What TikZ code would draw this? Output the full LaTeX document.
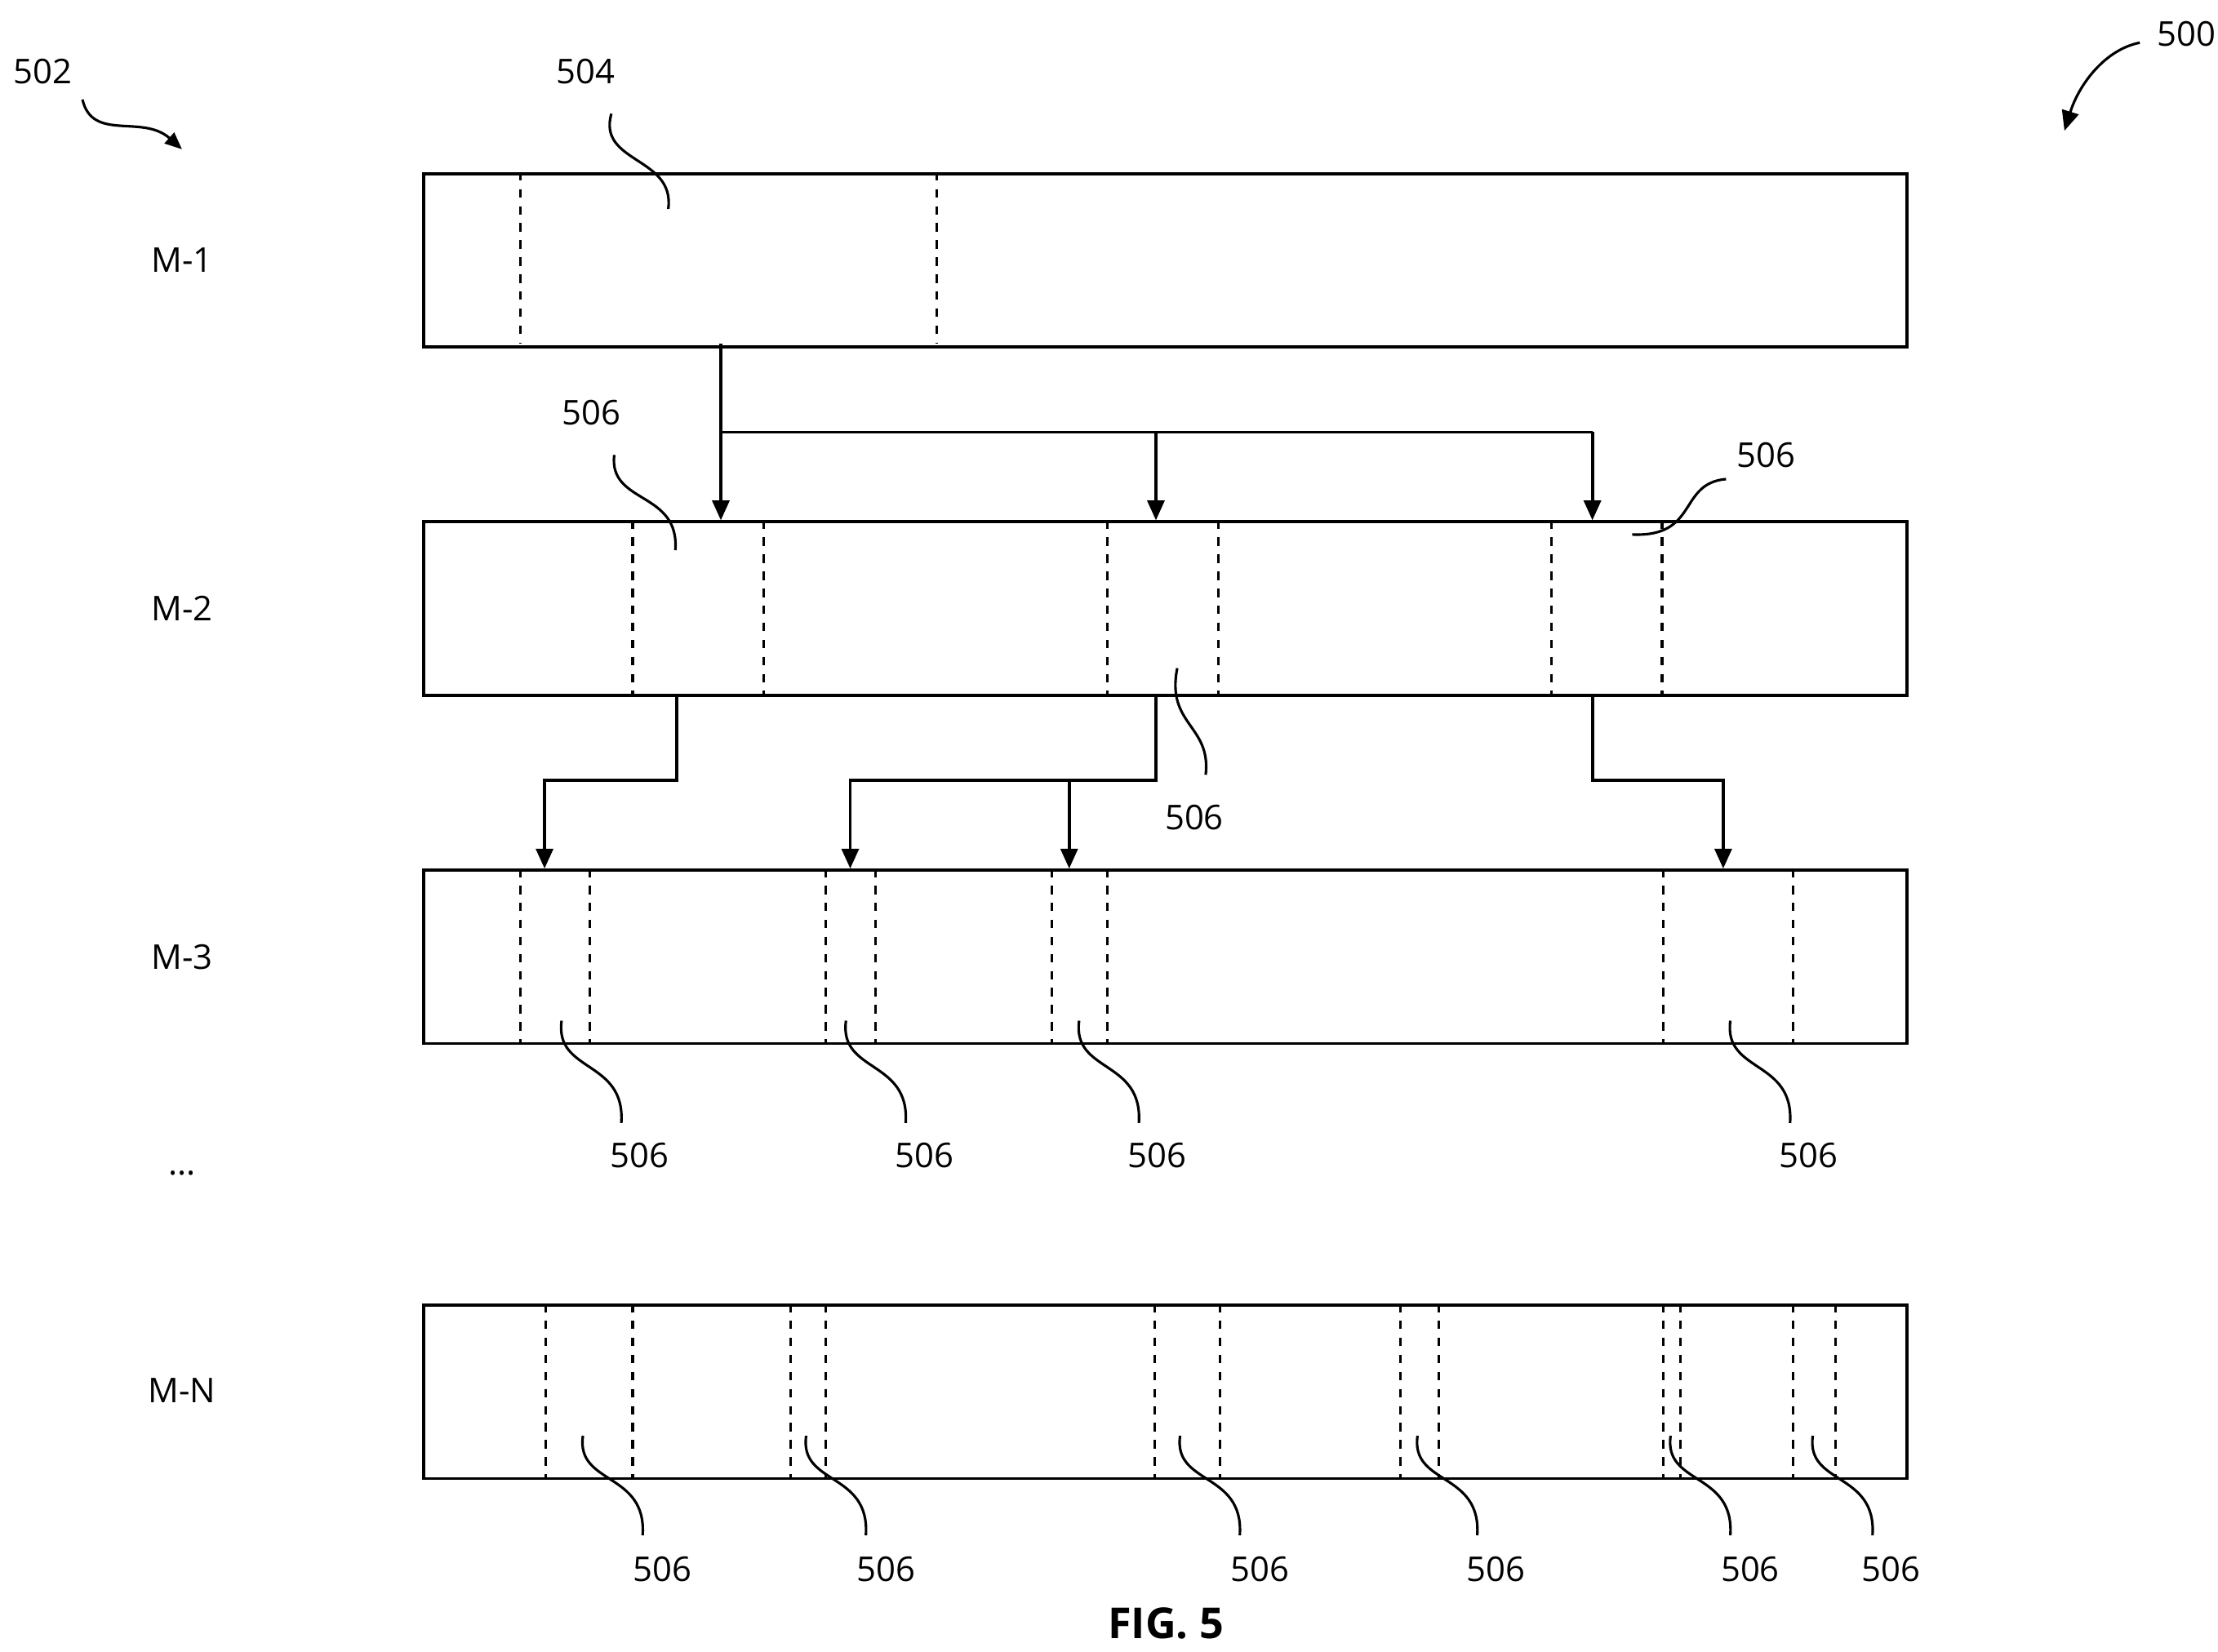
\documentclass[tikz,border=0pt]{standalone}
\usepackage{fontspec}
\setmainfont{Open Sans}
\usetikzlibrary{arrows.meta}
\begin{document}
\begin{tikzpicture}[x=0.5pt,y=-0.5pt,
 box/.style={draw,line width=1.1pt,minimum width=521.5pt,minimum height=61pt,inner sep=0,anchor=north west},
 dsh/.style={dashed,line width=0.9pt},
 lead/.style={line width=0.9pt},
 arr/.style={line width=1.1pt,-{Triangle[length=7pt,width=6pt]}},
 lbl/.style={font=\fontsize{12}{14}\selectfont,inner sep=1pt}]
\useasboundingbox (0,0) rectangle (1560,1162);
\node[box] (m1) at (297,121) {};
\node[box] (m2) at (297,366) {};
\node[box] (m3) at (297,611) {};
\node[box] (mn) at (297,917) {};
\foreach \y/\t in {183/M-1,428/M-2,673/M-3,978/M-N} \node[lbl] at (128,\y) {\t};
\node[lbl] at (128,825) {...};
% dashed lines
\foreach \x in {366,659} \draw[dsh] (\x,121)--(\x,242);
\foreach \x in {445,537,779,857,1091,1169} \draw[dsh] (\x,366)--(\x,488);
\foreach \x in {366,415,581,616,740,779,1170,1261} \draw[dsh] (\x,611)--(\x,733);
\foreach \x in {384,445,556,581,812,858,985,1012,1170,1182,1261,1291} \draw[dsh] (\x,917)--(\x,1040);
% arrows M1->M2
\draw[arr] (507,242)--(507,366);
\draw[line width=1.1pt] (507,304)--(1120,304);
\draw[arr] (813,304)--(813,366);
\draw[arr] (1120,304)--(1120,366);
% M2->M3
\draw[arr] (476,488)--(476,549)--(383,549)--(383,611);
\draw[arr] (813,488)--(813,549)--(598,549)--(598,611);
\draw[arr] (752,549)--(752,611);
\draw[arr] (1120,488)--(1120,549)--(1212,549)--(1212,611);
% labels
\node[lbl] (l504) at (412,50) {504};
\draw[lead] (430,80) .. controls (420,115) and (475,110) .. (470,147);
\node[lbl] at (416,290) {506};
\draw[lead] (432,320) .. controls (428,355) and (478,345) .. (475,387);
\node[lbl] at (1242,320) {506};
\draw[lead] (1214,337) .. controls (1180,340) and (1195,378) .. (1148,376);
\node[lbl] at (840,575) {506};
\draw[lead] (848,545) .. controls (852,510) and (820,510) .. (828,470);
\foreach \x/\lx in {395/450,595/650,759/814,1217/1272}{
  \node[lbl] at (\lx,813) {506};
  \draw[lead] (\x,718) .. controls (\x-5,755) and (\x+45,745) .. (\x+42,790);}
\foreach \x/\lx in {410/466,567/623,830/886,997/1052,1175/1231,1275/1330}{
  \node[lbl] at (\lx,1104) {506};
  \draw[lead] (\x,1010) .. controls (\x-5,1045) and (\x+45,1035) .. (\x+42,1080);}
\node[lbl] at (30,50) {502};
\draw[lead,-{Triangle[length=6pt,width=5pt]}] (58,70) .. controls (65,100) and (100,80) .. (128,105);
\node[lbl] at (1538,24) {500};
\draw[lead,-{Triangle[length=7pt,width=6pt]}] (1505,30) .. controls (1480,35) and (1462,60) .. (1452,92);
\node[font=\bfseries\fontsize{15}{18}\selectfont] at (820,1142) {FIG. 5};
\end{tikzpicture}
\end{document}
